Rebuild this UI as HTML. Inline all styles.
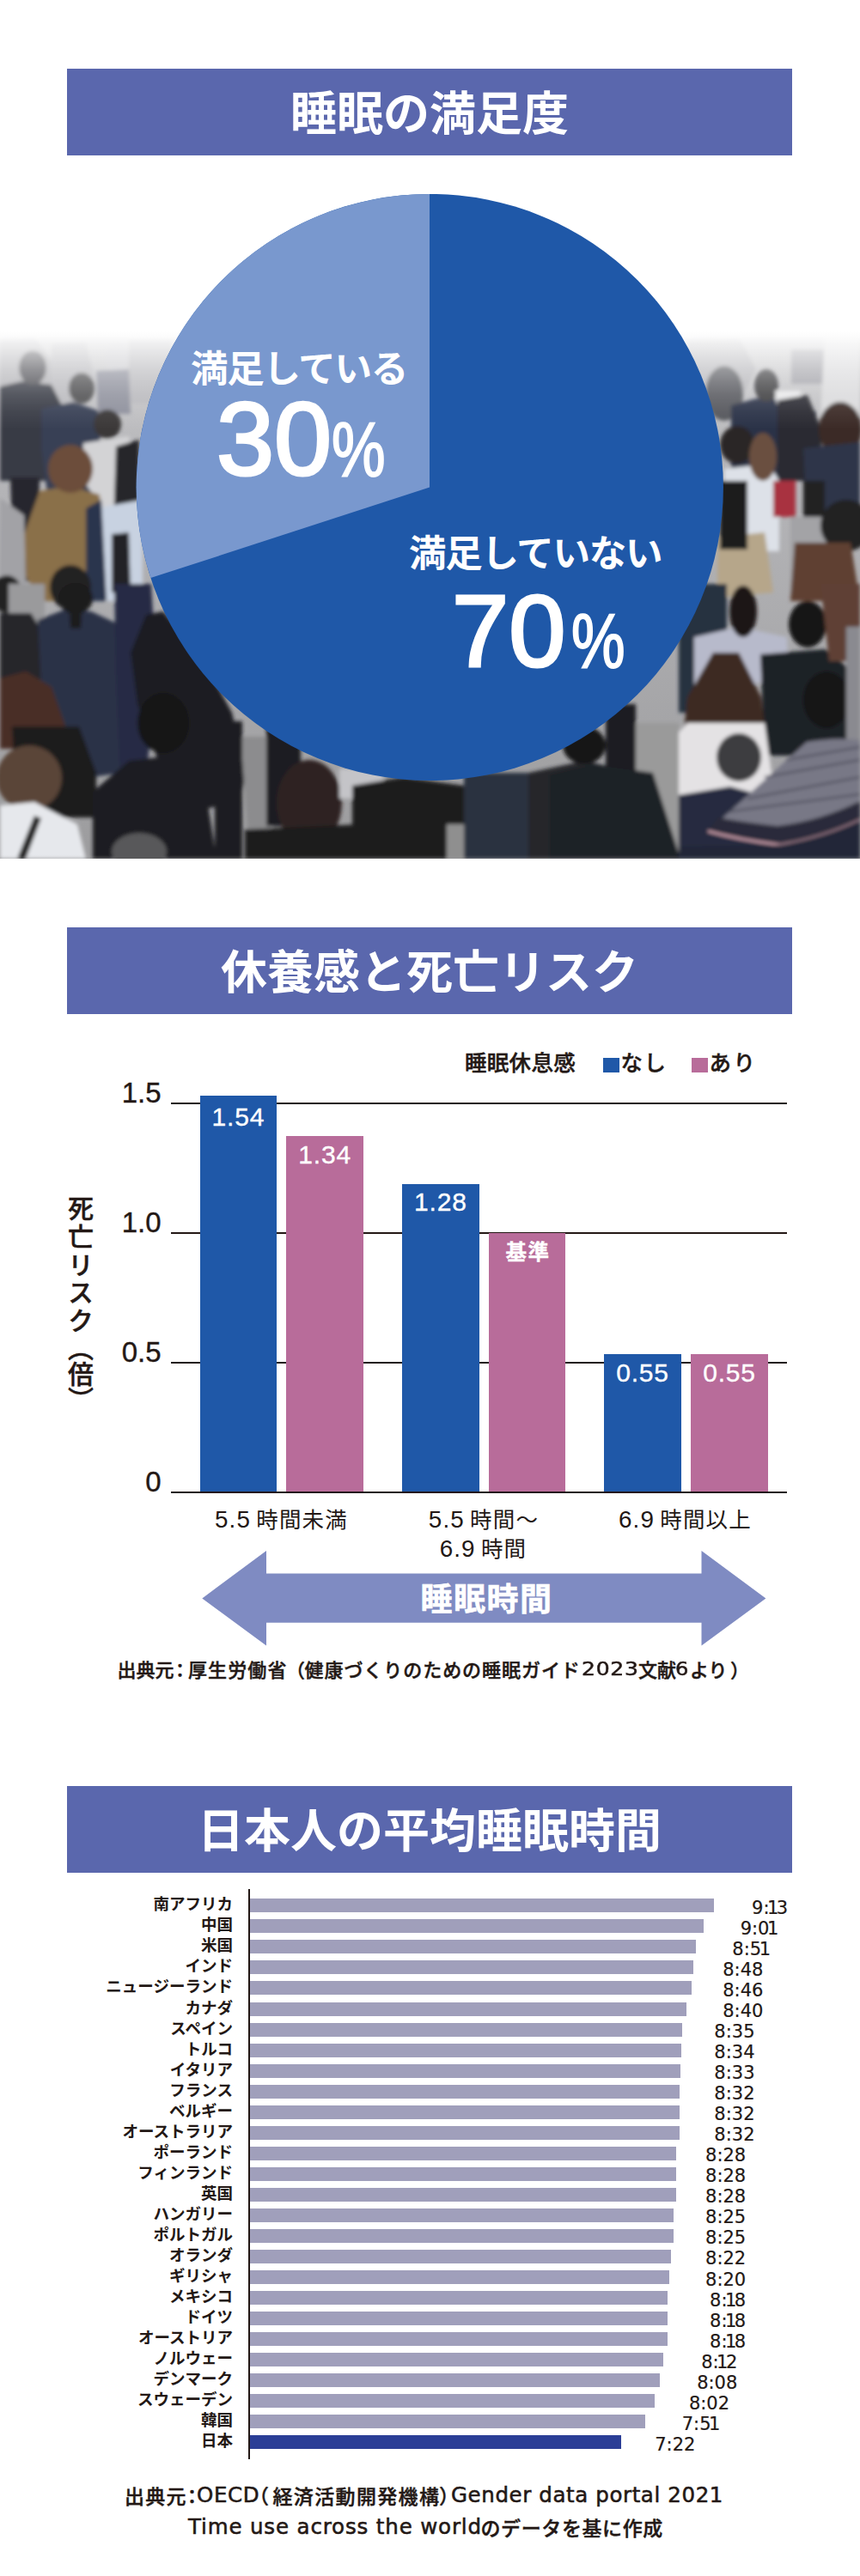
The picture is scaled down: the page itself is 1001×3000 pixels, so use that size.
<!DOCTYPE html>
<html lang="ja">
<head>
<meta charset="utf-8">
<title>睡眠</title>
<style>
*{margin:0;padding:0;box-sizing:border-box}
html,body{width:1001px;height:3000px;background:#fff;overflow:hidden}
body{position:relative;font-family:"Liberation Sans","Noto Sans CJK JP",sans-serif;color:#231815}
.a{position:absolute;white-space:nowrap}
.jp{font-family:"Noto Sans CJK JP",sans-serif}
.hd{position:absolute;left:78px;width:844px;height:101px;background:#5a67ad;color:#fff;font-family:"Noto Sans CJK JP",sans-serif;font-weight:700;font-size:54px;line-height:97px;text-align:center}
.bar{position:absolute}
.src{font-size:22px;font-weight:500;line-height:1;letter-spacing:0.6px;-webkit-text-stroke:0.45px #231815}
.lt{font-family:"DejaVu Sans",sans-serif;font-weight:400;font-size:24.5px;letter-spacing:0.6px;-webkit-text-stroke:0.55px #231815;line-height:1}
.ln{font-family:"DejaVu Sans",sans-serif;font-weight:400;font-size:22px;letter-spacing:2.2px;-webkit-text-stroke:0.5px #231815;line-height:1}
.pt{font-size:43.5px;font-weight:700;color:#fff;line-height:1;letter-spacing:-1.3px}
.dg{font-size:120px;color:#fff;line-height:1;-webkit-text-stroke:3.2px #fff}
.pc{font-size:88px;color:#fff;line-height:1;transform:scaleX(0.79);transform-origin:0 0;-webkit-text-stroke:2px #fff}
.b{background:#1f58a8}
.p{background:#b86c9a}
.gl{position:absolute;left:199px;width:717px;height:2px;background:#231815}
.bv{position:absolute;color:#fff;font-size:30px;text-align:center;line-height:1;letter-spacing:0.8px;-webkit-text-stroke:0.35px #fff}
.yl{position:absolute;font-size:33px;line-height:1;text-align:right;width:80px;left:107.5px;letter-spacing:0;-webkit-text-stroke:0.4px #231815}
.xl{position:absolute;font-size:26px;line-height:31px;text-align:center;width:240px}
.xn{font-family:"Liberation Sans",sans-serif;font-size:27.8px;letter-spacing:1.1px}
.xj{font-family:"Noto Sans CJK JP",sans-serif;font-size:25.5px;letter-spacing:1.2px;margin-left:-1px}
.row{position:absolute;left:0;width:1001px;height:24px}
.row .lb{position:absolute;right:730px;font-family:"Noto Sans CJK JP",sans-serif;font-weight:700;font-size:18.5px;line-height:1}
.row .br{position:absolute;left:290.6px;height:16px;background:#a09fbb}
.row .vl{position:absolute;font-family:"DejaVu Sans",sans-serif;font-size:21px;line-height:1;letter-spacing:0;-webkit-text-stroke:0.2px #231815}
.row .vl i{font-style:normal;margin:0 -2.5px}
</style>
</head>
<body>
<!-- ============ SECTION 1 ============ -->
<!--PHOTO-->
<svg class="a" style="left:0;top:380px" width="1001" height="620" viewBox="0 380 1001 620">
<defs>
<linearGradient id="gnd" x1="0" y1="380" x2="0" y2="1000" gradientUnits="userSpaceOnUse">
<stop offset="0" stop-color="#d0d0d2"/><stop offset="0.25" stop-color="#b6b6b9"/><stop offset="1" stop-color="#9c9c9e"/>
</linearGradient>
<linearGradient id="haze" x1="0" y1="380" x2="0" y2="1000" gradientUnits="userSpaceOnUse">
<stop offset="0" stop-color="#fff" stop-opacity="1"/>
<stop offset="0.01" stop-color="#fff" stop-opacity="1"/>
<stop offset="0.0194" stop-color="#fff" stop-opacity="0.93"/>
<stop offset="0.0323" stop-color="#fff" stop-opacity="0.78"/>
<stop offset="0.0565" stop-color="#fff" stop-opacity="0.58"/>
<stop offset="0.0806" stop-color="#fff" stop-opacity="0.4"/>
<stop offset="0.1048" stop-color="#fff" stop-opacity="0.26"/>
<stop offset="0.129" stop-color="#fff" stop-opacity="0.15"/>
<stop offset="0.161" stop-color="#fff" stop-opacity="0.06"/>
<stop offset="0.194" stop-color="#fff" stop-opacity="0"/>
</linearGradient>
<pattern id="umb" x="0" y="0" width="6" height="6" patternUnits="userSpaceOnUse"><rect width="6" height="6" fill="#b4b4c0"/><rect width="6" height="3.5" fill="#363644"/></pattern>
<filter id="bl" x="-5%" y="-5%" width="110%" height="110%"><feGaussianBlur stdDeviation="2.2"/></filter>
</defs>
<rect x="0" y="380" width="1001" height="620" fill="url(#gnd)"/>
<g filter="url(#bl)">
<!-- far haze people -->
<path d="M0 395 L40 392 L60 420 L60 470 L0 470Z" fill="#b4b4b8"/>
<path d="M60 400 L100 398 L110 440 L90 470 L60 470Z" fill="#b9b9bd"/>
<path d="M150 395 L200 395 L200 470 L150 470Z" fill="#b8b8bc"/>
<path d="M800 395 L860 392 L880 430 L860 470 L800 470Z" fill="#b6b6ba"/>
<path d="M921 407 L972 407 L972 447 L921 447Z" fill="#a2a2a8"/>
<path d="M960 400 L1001 398 L1001 470 L965 470Z" fill="#d2d2d4"/>
<!-- LEFT -->
<path d="M0 450 L25 444 L60 448 L72 472 L70 560 L0 560Z" fill="#383b45"/>
<ellipse cx="38" cy="428" rx="16" ry="20" fill="#4e4e52"/>
<path d="M12 556 L46 556 L44 676 L16 678Z" fill="#27272d"/>
<path d="M48 476 L85 468 L114 478 L120 560 L106 582 L56 582 L48 522Z" fill="#394055"/>
<ellipse cx="95" cy="452" rx="15" ry="18" fill="#4d4d50"/>
<ellipse cx="136" cy="417" rx="13" ry="20" fill="#c9c9cd"/>
<path d="M112 432 L150 430 L152 482 L114 482Z" fill="#8e909c"/>
<path d="M97 516 L150 508 L158 586 L120 592 L97 560Z" fill="#d3d3d5"/>
<ellipse cx="125" cy="494" rx="16" ry="17" fill="#3a3838"/>
<path d="M28 622 L46 572 L80 566 L116 576 L122 650 L118 700 L50 700 L30 672Z" fill="#8a7048"/>
<ellipse cx="82" cy="546" rx="26" ry="28" fill="#6c4d3a"/>
<path d="M135 520 L162 512 L162 622 L132 612Z" fill="#26262b"/>
<path d="M112 592 L166 582 L166 700 L112 700Z" fill="#c8d2e1"/>
<path d="M130 622 L150 620 L152 690 L130 690Z" fill="#222226"/>
<path d="M100 592 L118 582 L124 700 L100 700Z" fill="#2c344e"/>
<path d="M0 580 L28 600 L30 680 L0 680Z" fill="#a2a2a6"/>
<!-- LEFT LOWER -->
<ellipse cx="8" cy="692" rx="18" ry="22" fill="#202022"/>
<ellipse cx="82" cy="684" rx="24" ry="26" fill="#242022"/>
<path d="M10 680 L52 680 L52 728 L10 728Z" fill="#9a9a9c"/>
<path d="M0 714 L36 714 L52 740 L52 792 L0 792Z" fill="#25262b"/>
<path d="M44 722 L75 710 L106 712 L136 726 L146 800 L142 900 L100 906 L60 882 L48 800Z" fill="#2b3247"/>
<ellipse cx="88" cy="697" rx="20" ry="18" fill="#1a1a1a"/>
<path d="M80 700 L96 700 L94 732 L82 732Z" fill="#1a1a1a"/>
<path d="M133 680 L176 680 L183 800 L170 900 L140 905 L135 780Z" fill="#262c44"/>
<path d="M170 716 L190 712 L232 760 L270 830 L286 900 L280 932 L240 942 L190 902 L160 820 L152 760Z" fill="#1c1c20"/>
<path d="M0 790 L30 782 L60 800 L82 862 L60 872 L0 872Z" fill="#4a2e28"/>
<path d="M14 846 L92 846 L112 900 L112 952 L20 952Z" fill="#1b1b1d"/>
<path d="M108 922 L150 886 L200 880 L236 900 L252 1000 L108 1000Z" fill="#1e1f24"/>
<ellipse cx="190" cy="842" rx="30" ry="35" fill="#151515"/>
<ellipse cx="34" cy="906" rx="38" ry="38" fill="#5a4538"/>
<path d="M0 938 L40 934 L90 960 L100 1000 L0 1000Z" fill="#e6e8ec"/>
<path d="M20 1000 L40 950 L48 953 L30 1000Z" fill="#222"/>
<ellipse cx="162" cy="992" rx="32" ry="22" fill="#58585a"/>
<path d="M280 858 L316 858 L316 992 L290 992Z" fill="#8c8c8e"/>
<!-- MIDDLE BOTTOM -->
<path d="M250 840 L282 840 L282 1000 L250 1000Z" fill="#1e1e22"/>
<path d="M310 840 L350 840 L350 962 L310 962Z" fill="#1e1e22"/>
<ellipse cx="360" cy="935" rx="38" ry="50" fill="#2e2420"/>
<path d="M285 966 L420 960 L430 1000 L285 1000Z" fill="#1a1a1c"/>
<path d="M395 895 L446 895 L446 930 L395 930Z" fill="#c4c4c8"/>
<path d="M410 915 L470 905 L540 915 L556 1000 L410 1000Z" fill="#1a1a1e"/>
<path d="M520 960 L550 960 L550 1000 L520 1000Z" fill="#8f8f8f"/>
<path d="M540 900 L620 900 L620 1000 L540 1000Z" fill="#2a3040"/>
<path d="M615 900 L680 886 L720 895 L720 1000 L615 1000Z" fill="#26272c"/>
<ellipse cx="680" cy="868" rx="25" ry="22" fill="#151515"/>
<!-- RIGHT -->
<path d="M960 392 L1001 392 L1001 485 L955 485Z" fill="#dadadc"/>
<ellipse cx="843" cy="458" rx="22" ry="32" fill="#55565c"/>
<path d="M851 472 L880 464 L925 466 L950 480 L950 560 L851 560Z" fill="#2c3246"/>
<ellipse cx="892" cy="449" rx="14" ry="19" fill="#3a3a3e"/>
<path d="M902 455 L932 455 L930 470 L904 470Z" fill="#e8e8ea"/>
<path d="M905 466 L940 460 L956 500 L956 560 L905 560Z" fill="#2a2a30"/>
<path d="M843 546 L895 540 L907 560 L907 642 L850 642 L843 600Z" fill="#dde1e8"/>
<ellipse cx="858" cy="518" rx="20" ry="22" fill="#2a2828"/>
<ellipse cx="888" cy="532" rx="16" ry="28" fill="#6a5040"/>
<path d="M900 560 L926 560 L926 602 L900 602Z" fill="#a83040"/>
<ellipse cx="978" cy="500" rx="25" ry="32" fill="#3a2c28"/>
<path d="M935 522 L1001 515 L1001 622 L940 622Z" fill="#2e3548"/>
<path d="M935 560 L960 560 L960 602 L935 602Z" fill="#222"/>
<path d="M920 602 L960 602 L966 692 L920 692Z" fill="#a3a3a6"/>
<ellipse cx="985" cy="612" rx="30" ry="30" fill="#222"/>
<path d="M835 626 L890 620 L900 690 L835 696Z" fill="#b6a68a"/>
<path d="M925 632 L990 632 L1001 700 L920 700Z" fill="#5e4030"/>
<path d="M838 560 L870 560 L870 640 L838 640Z" fill="#1c1c1c"/>
<!-- RIGHT LOWER -->
<path d="M790 680 L846 680 L846 830 L790 830Z" fill="#283040"/>
<path d="M808 742 L860 730 L916 742 L918 792 L808 802Z" fill="#b7bacb"/>
<ellipse cx="865" cy="712" rx="16" ry="30" fill="#1c1818"/>
<path d="M885 762 L960 756 L990 780 L990 880 L890 880Z" fill="#1f2025"/>
<ellipse cx="940" cy="727" rx="22" ry="27" fill="#121212"/>
<path d="M955 680 L1001 680 L1001 770 L965 770Z" fill="#5e4034"/>
<path d="M800 812 L830 760 L860 760 L886 812 L892 862 L795 862Z" fill="#3e2a24"/>
<path d="M782 862 L800 842 L890 842 L898 900 L892 946 L785 946Z" fill="#e4e2e4"/>
<path d="M740 842 L790 842 L790 992 L760 992 L740 962Z" fill="#9a9a9a"/>
<path d="M705 820 L740 820 L740 900 L705 900Z" fill="#1e1e22"/>
<path d="M640 902 L690 890 L760 900 L792 1000 L640 1000Z" fill="#1f2026"/>
<ellipse cx="860" cy="882" rx="26" ry="28" fill="#3e3e40"/>
<path d="M790 926 L850 916 L900 930 L900 1000 L790 1000Z" fill="#252c40"/>
<ellipse cx="962" cy="815" rx="27" ry="33" fill="#151515"/>
<path d="M985 730 L1001 730 L1001 862 L985 862Z" fill="#8a8a90"/>
<path d="M824 968 L939 864 Q975 858 1001 862 L1001 955 Q960 975 908 984 Q860 978 824 968 Z" fill="#787886"/>
<path d="M870 930 L1001 905 M850 945 L1001 925 M890 905 L1001 885 M915 885 L1001 870" stroke="#4a4a58" stroke-width="2" fill="none"/>
<path d="M824 968 Q860 978 908 984 Q960 975 1001 955 L1001 933 Q955 956 905 962 Q860 957 836 952 Z" fill="#2c2c3a"/>
<path d="M824 968 Q860 978 908 984 Q960 975 1001 955" stroke="#d6a6b2" stroke-width="2.5" fill="none"/>
<path d="M790 986 L908 984 Q960 975 1001 955 L1001 1000 L790 1000Z" fill="#222638"/>
</g>
<rect x="0" y="380" width="1001" height="620" fill="url(#haze)"/>
</svg>
<!--/PHOTO-->

<div class="hd" style="top:80px">睡眠の満足度</div>

<svg class="a" style="left:0;top:0" width="1001" height="1000" viewBox="0 0 1001 1000">
  <circle cx="500.3" cy="567.5" r="341.6" fill="#1f58a8"/>
  <path d="M500 567.5 L500 225.9 A341.6 341.6 0 0 0 175.4 673.1 Z" fill="#7998ce"/>
</svg>

<div class="a jp pt" style="left:222px;top:405px">満足している</div>
<div class="a dg" style="left:252px;top:452px;font-size:120.5px">30</div>
<div class="a pc" style="left:386px;top:479px;font-size:89px">%</div>

<div class="a jp pt" style="left:476px;top:620px">満足していない</div>
<div class="a dg" style="left:526px;top:675px;font-size:119px">70</div>
<div class="a pc" style="left:665px;top:702px;font-size:89px">%</div>

<!-- ============ SECTION 2 ============ -->
<div class="hd" style="top:1080px">休養感と死亡リスク</div>

<div class="a jp" style="left:541px;top:1222.5px;font-size:25.5px;font-weight:500;line-height:1;letter-spacing:0.3px;-webkit-text-stroke:0.45px #231815">睡眠休息感</div>
<div class="a" style="left:701.6px;top:1231.7px;width:19px;height:17px;background:#1f58a8"></div>
<div class="a jp" style="left:722.5px;top:1222.5px;font-size:25.5px;font-weight:500;line-height:1;letter-spacing:1.5px;-webkit-text-stroke:0.45px #231815">なし</div>
<div class="a" style="left:805.4px;top:1231.7px;width:19px;height:17px;background:#b86c9a"></div>
<div class="a jp" style="left:825.5px;top:1222.5px;font-size:25.5px;font-weight:500;line-height:1;letter-spacing:2.5px;-webkit-text-stroke:0.45px #231815">あり</div>

<div class="gl" style="top:1284px"></div>
<div class="gl" style="top:1435px"></div>
<div class="gl" style="top:1586px"></div>
<div class="gl" style="top:1736.6px"></div>

<div class="yl" style="top:1256px">1.5</div>
<div class="yl" style="top:1407px">1.0</div>
<div class="yl" style="top:1558px">0.5</div>
<div class="yl" style="top:1709px">0</div>

<div class="a jp" style="left:79px;top:1392px;writing-mode:vertical-rl;font-size:30px;font-weight:500;line-height:1;letter-spacing:2.6px;-webkit-text-stroke:0.5px #231815">死亡リスク<span style="letter-spacing:0">（倍）</span></div>

<div class="bar b" style="left:232.5px;top:1275.7px;width:89.8px;height:461px"></div>
<div class="bar p" style="left:333.3px;top:1323px;width:89.6px;height:414px"></div>
<div class="bar b" style="left:468.2px;top:1379.4px;width:89.4px;height:358px"></div>
<div class="bar p" style="left:568.5px;top:1435.8px;width:89.6px;height:301px"></div>
<div class="bar b" style="left:703.3px;top:1577.1px;width:89.4px;height:160px"></div>
<div class="bar p" style="left:804.4px;top:1577.1px;width:89.2px;height:160px"></div>

<div class="bv" style="left:232.5px;width:89.8px;top:1285.5px">1.54</div>
<div class="bv" style="left:333.3px;width:89.6px;top:1329.5px">1.34</div>
<div class="bv" style="left:468.2px;width:89.4px;top:1384.5px">1.28</div>
<div class="bv jp" style="left:568.5px;width:89.6px;top:1444.5px;font-size:24.5px;font-weight:700;letter-spacing:1.5px;padding-left:2.5px">基準</div>
<div class="bv" style="left:703.3px;width:89.4px;top:1584px">0.55</div>
<div class="bv" style="left:804.4px;width:89.2px;top:1584px">0.55</div>

<div class="xl" style="left:207.5px;top:1752px"><span class="xn">5.5</span> <span class="xj">時間未満</span></div>
<div class="xl" style="left:443px;top:1752px"><span class="xn">5.5</span> <span class="xj">時間～</span></div>
<div class="xl" style="left:442.5px;top:1785.5px"><span class="xn">6.9</span> <span class="xj">時間</span></div>
<div class="xl" style="left:677.5px;top:1752px"><span class="xn">6.9</span> <span class="xj">時間以上</span></div>

<svg class="a" style="left:0;top:1800px" width="1001" height="130" viewBox="0 1800 1001 130">
  <path d="M235.3 1861.4 L310 1806 L310 1832.6 L816.5 1832.6 L816.5 1806 L891.4 1861.4 L816.5 1916.6 L816.5 1889.8 L310 1889.8 L310 1916.6 Z" fill="#7f8bc2"/>
</svg>
<div class="a jp" style="left:489.5px;top:1841.5px;font-size:37px;font-weight:700;color:#fff;line-height:1;letter-spacing:1.5px;-webkit-text-stroke:0.6px #fff">睡眠時間</div>

<div class="a jp src" style="left:136.5px;top:1932px;letter-spacing:0">出典元</div>
<div class="a jp src" style="left:198.5px;top:1932px;letter-spacing:0">：</div>
<div class="a jp src" style="left:219px;top:1932px;letter-spacing:1.1px">厚生労働省</div>
<div class="a jp src" style="left:333px;top:1932px;letter-spacing:0">（</div>
<div class="a jp src" style="left:354.5px;top:1932px;letter-spacing:0.95px">健康づくりのための睡眠ガイド</div>
<div class="a ln" style="left:677px;top:1932.5px;letter-spacing:0.6px;transform:scaleX(1.14);transform-origin:0 0">2023</div>
<div class="a jp src" style="left:743px;top:1932px;letter-spacing:0">文献</div>
<div class="a ln" style="left:786px;top:1932.5px;transform:scaleX(1.1);transform-origin:0 0">6</div>
<div class="a jp src" style="left:803px;top:1932px;letter-spacing:0">より</div>
<div class="a jp src" style="left:850px;top:1932px;letter-spacing:0">）</div>

<!-- ============ SECTION 3 ============ -->
<div class="hd" style="top:2080px">日本人の平均睡眠時間</div>

<div class="a" style="left:288.6px;top:2199.7px;width:2px;height:664px;background:#231815"></div>
<!--ROWS-->
<div class="row" style="top:2211.30px"><span class="lb" style="top:-4px">南アフリカ</span><span class="br" style="width:540.7px"></span><span class="vl" style="right:83.8px;top:0.5px">9:<i>1</i>3</span></div>
<div class="row" style="top:2235.34px"><span class="lb" style="top:-4px">中国</span><span class="br" style="width:528.9px"></span><span class="vl" style="right:97.2px;top:0.5px">9:0<i>1</i></span></div>
<div class="row" style="top:2259.38px"><span class="lb" style="top:-4px">米国</span><span class="br" style="width:519.2px"></span><span class="vl" style="right:106.5px;top:0.5px">8:5<i>1</i></span></div>
<div class="row" style="top:2283.42px"><span class="lb" style="top:-4px">インド</span><span class="br" style="width:516.2px"></span><span class="vl" style="right:112.6px;top:0.5px">8:48</span></div>
<div class="row" style="top:2307.46px"><span class="lb" style="top:-4px">ニュージーランド</span><span class="br" style="width:514.3px"></span><span class="vl" style="right:112.6px;top:0.5px">8:46</span></div>
<div class="row" style="top:2331.50px"><span class="lb" style="top:-4px">カナダ</span><span class="br" style="width:508.4px"></span><span class="vl" style="right:112.6px;top:0.5px">8:40</span></div>
<div class="row" style="top:2355.54px"><span class="lb" style="top:-4px">スペイン</span><span class="br" style="width:503.5px"></span><span class="vl" style="right:122.5px;top:0.5px">8:35</span></div>
<div class="row" style="top:2379.58px"><span class="lb" style="top:-4px">トルコ</span><span class="br" style="width:502.5px"></span><span class="vl" style="right:122.5px;top:0.5px">8:34</span></div>
<div class="row" style="top:2403.62px"><span class="lb" style="top:-4px">イタリア</span><span class="br" style="width:501.6px"></span><span class="vl" style="right:122.5px;top:0.5px">8:33</span></div>
<div class="row" style="top:2427.66px"><span class="lb" style="top:-4px">フランス</span><span class="br" style="width:500.6px"></span><span class="vl" style="right:122.5px;top:0.5px">8:32</span></div>
<div class="row" style="top:2451.70px"><span class="lb" style="top:-4px">ベルギー</span><span class="br" style="width:500.6px"></span><span class="vl" style="right:122.5px;top:0.5px">8:32</span></div>
<div class="row" style="top:2475.74px"><span class="lb" style="top:-4px">オーストラリア</span><span class="br" style="width:500.6px"></span><span class="vl" style="right:122.5px;top:0.5px">8:32</span></div>
<div class="row" style="top:2499.78px"><span class="lb" style="top:-4px">ポーランド</span><span class="br" style="width:496.7px"></span><span class="vl" style="right:132.8px;top:0.5px">8:28</span></div>
<div class="row" style="top:2523.82px"><span class="lb" style="top:-4px">フィンランド</span><span class="br" style="width:496.7px"></span><span class="vl" style="right:132.8px;top:0.5px">8:28</span></div>
<div class="row" style="top:2547.86px"><span class="lb" style="top:-4px">英国</span><span class="br" style="width:496.7px"></span><span class="vl" style="right:132.8px;top:0.5px">8:28</span></div>
<div class="row" style="top:2571.90px"><span class="lb" style="top:-4px">ハンガリー</span><span class="br" style="width:493.7px"></span><span class="vl" style="right:132.8px;top:0.5px">8:25</span></div>
<div class="row" style="top:2595.94px"><span class="lb" style="top:-4px">ポルトガル</span><span class="br" style="width:493.7px"></span><span class="vl" style="right:132.8px;top:0.5px">8:25</span></div>
<div class="row" style="top:2619.98px"><span class="lb" style="top:-4px">オランダ</span><span class="br" style="width:490.8px"></span><span class="vl" style="right:132.8px;top:0.5px">8:22</span></div>
<div class="row" style="top:2644.02px"><span class="lb" style="top:-4px">ギリシャ</span><span class="br" style="width:488.9px"></span><span class="vl" style="right:132.8px;top:0.5px">8:20</span></div>
<div class="row" style="top:2668.06px"><span class="lb" style="top:-4px">メキシコ</span><span class="br" style="width:486.9px"></span><span class="vl" style="right:132.8px;top:0.5px">8:<i>1</i>8</span></div>
<div class="row" style="top:2692.10px"><span class="lb" style="top:-4px">ドイツ</span><span class="br" style="width:486.9px"></span><span class="vl" style="right:132.8px;top:0.5px">8:<i>1</i>8</span></div>
<div class="row" style="top:2716.14px"><span class="lb" style="top:-4px">オーストリア</span><span class="br" style="width:486.9px"></span><span class="vl" style="right:132.8px;top:0.5px">8:<i>1</i>8</span></div>
<div class="row" style="top:2740.18px"><span class="lb" style="top:-4px">ノルウェー</span><span class="br" style="width:481.0px"></span><span class="vl" style="right:142.7px;top:0.5px">8:<i>1</i>2</span></div>
<div class="row" style="top:2764.22px"><span class="lb" style="top:-4px">デンマーク</span><span class="br" style="width:477.1px"></span><span class="vl" style="right:142.7px;top:0.5px">8:08</span></div>
<div class="row" style="top:2788.26px"><span class="lb" style="top:-4px">スウェーデン</span><span class="br" style="width:471.3px"></span><span class="vl" style="right:151.9px;top:0.5px">8:02</span></div>
<div class="row" style="top:2812.30px"><span class="lb" style="top:-4px">韓国</span><span class="br" style="width:460.5px"></span><span class="vl" style="right:165.1px;top:0.5px">7:5<i>1</i></span></div>
<div class="row" style="top:2836.34px"><span class="lb" style="top:-4px">日本</span><span class="br" style="background:#2b3e96;width:432.1px"></span><span class="vl" style="right:191.6px;top:0.5px">7:22</span></div>
<!--/ROWS-->

<div class="a jp src" style="left:145px;top:2894.5px;letter-spacing:1.3px;font-size:23px">出典元</div>
<div class="a jp src" style="left:212px;top:2894.5px;letter-spacing:0;font-size:23px">：</div>
<div class="a lt" style="left:229px;top:2893.5px">OECD</div>
<div class="a jp src" style="left:290px;top:2894.5px;letter-spacing:0;font-size:23px">（</div>
<div class="a jp src" style="left:317.5px;top:2894.5px;letter-spacing:1.35px;font-size:23px">経済活動開発機構</div>
<div class="a jp src" style="left:511px;top:2894.5px;letter-spacing:0;font-size:23px">）</div>
<div class="a lt" style="left:525px;top:2893.5px">Gender data portal 2021</div>
<div class="a lt" style="left:219px;top:2930.5px;letter-spacing:0.85px">Time use across the world</div>
<div class="a jp src" style="left:559.5px;top:2931.5px;letter-spacing:0.6px;font-size:23px">のデータを基に作成</div>
</body>
</html>
